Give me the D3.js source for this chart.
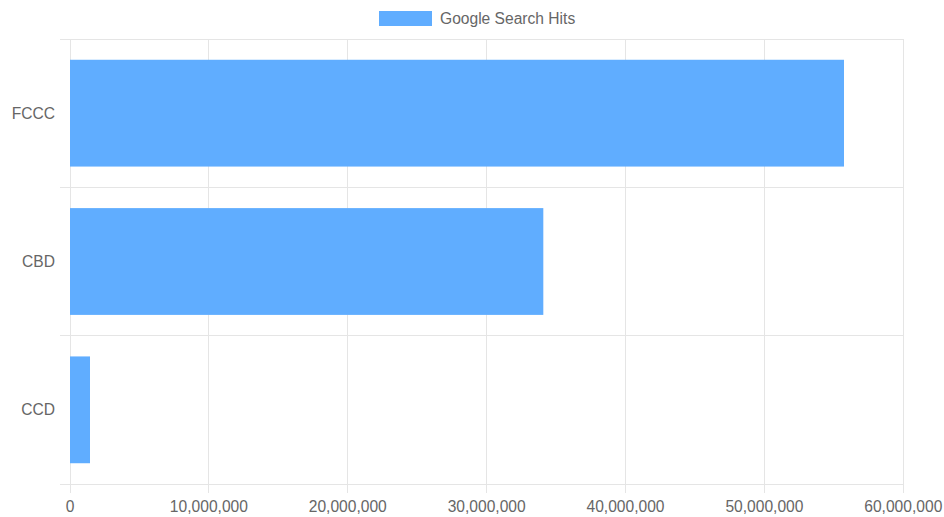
<!DOCTYPE html>
<html><head><meta charset="utf-8">
<script src="https://cdn.jsdelivr.net/npm/d3@7/dist/d3.min.js"></script>
<style>body{margin:0;background:#fff}svg{display:block}text{font-family:"Liberation Sans",Arial,sans-serif}</style>
</head><body><svg id="c" width="944" height="517"></svg>
<script>
const categories = ["FCCC", "CBD", "CCD"];
const values = [55730000, 34080000, 1440000];
const seriesName = "Google Search Hits";
const xTicks = [0, 10000000, 20000000, 30000000, 40000000, 50000000, 60000000];

const svg = d3.select("#c");
const L = 70, R = 903.3, T = 39, B = 484;
const fs = 15.6, txt = "#666", grid = "#e5e5e5", barColor = "#60adff";

const x = d3.scaleLinear().domain([0, 60000000]).range([L, R]);
const y = d3.scaleBand().domain(categories).range([T, B]);

// vertical grid
svg.append("g").selectAll("line").data(xTicks).join("line")
  .attr("x1", d => x(d)).attr("x2", d => x(d)).attr("y1", T).attr("y2", B + 9)
  .attr("stroke", grid).attr("stroke-width", 1).attr("shape-rendering","crispEdges");
// horizontal grid (band boundaries)
const bounds = categories.map(c => y(c)).concat([B]);
svg.append("g").selectAll("line").data(bounds).join("line")
  .attr("x1", L - 10).attr("x2", R).attr("y1", d => d).attr("y2", d => d)
  .attr("stroke", grid).attr("stroke-width", 1).attr("shape-rendering","crispEdges");

// bars
const bw = y.bandwidth() * 0.72;
svg.append("g").selectAll("rect").data(values).join("rect")
  .attr("x", x(0)).attr("y", (d, i) => y(categories[i]) + (y.bandwidth() - bw) / 2)
  .attr("width", d => x(d) - x(0)).attr("height", bw)
  .attr("fill", barColor);

// y labels
svg.append("g").selectAll("text").data(categories).join("text")
  .attr("x", 55).attr("y", d => y(d) + y.bandwidth() / 2)
  .attr("dy", "0.35em").attr("text-anchor", "end")
  .attr("fill", txt).attr("font-size", fs).text(d => d);

// x labels
const fmt = d3.format(",");
svg.append("g").selectAll("text").data(xTicks).join("text")
  .attr("x", d => x(d)).attr("y", 512).attr("text-anchor", "middle")
  .attr("fill", txt).attr("font-size", fs).text(d => fmt(d));

// legend
svg.append("rect").attr("x", 379).attr("y", 11).attr("width", 53).attr("height", 15).attr("fill", barColor);
svg.append("text").attr("x", 440).attr("y", 18.5).attr("dy", "0.35em")
  .attr("fill", txt).attr("font-size", fs).text(seriesName);
</script></body></html>
